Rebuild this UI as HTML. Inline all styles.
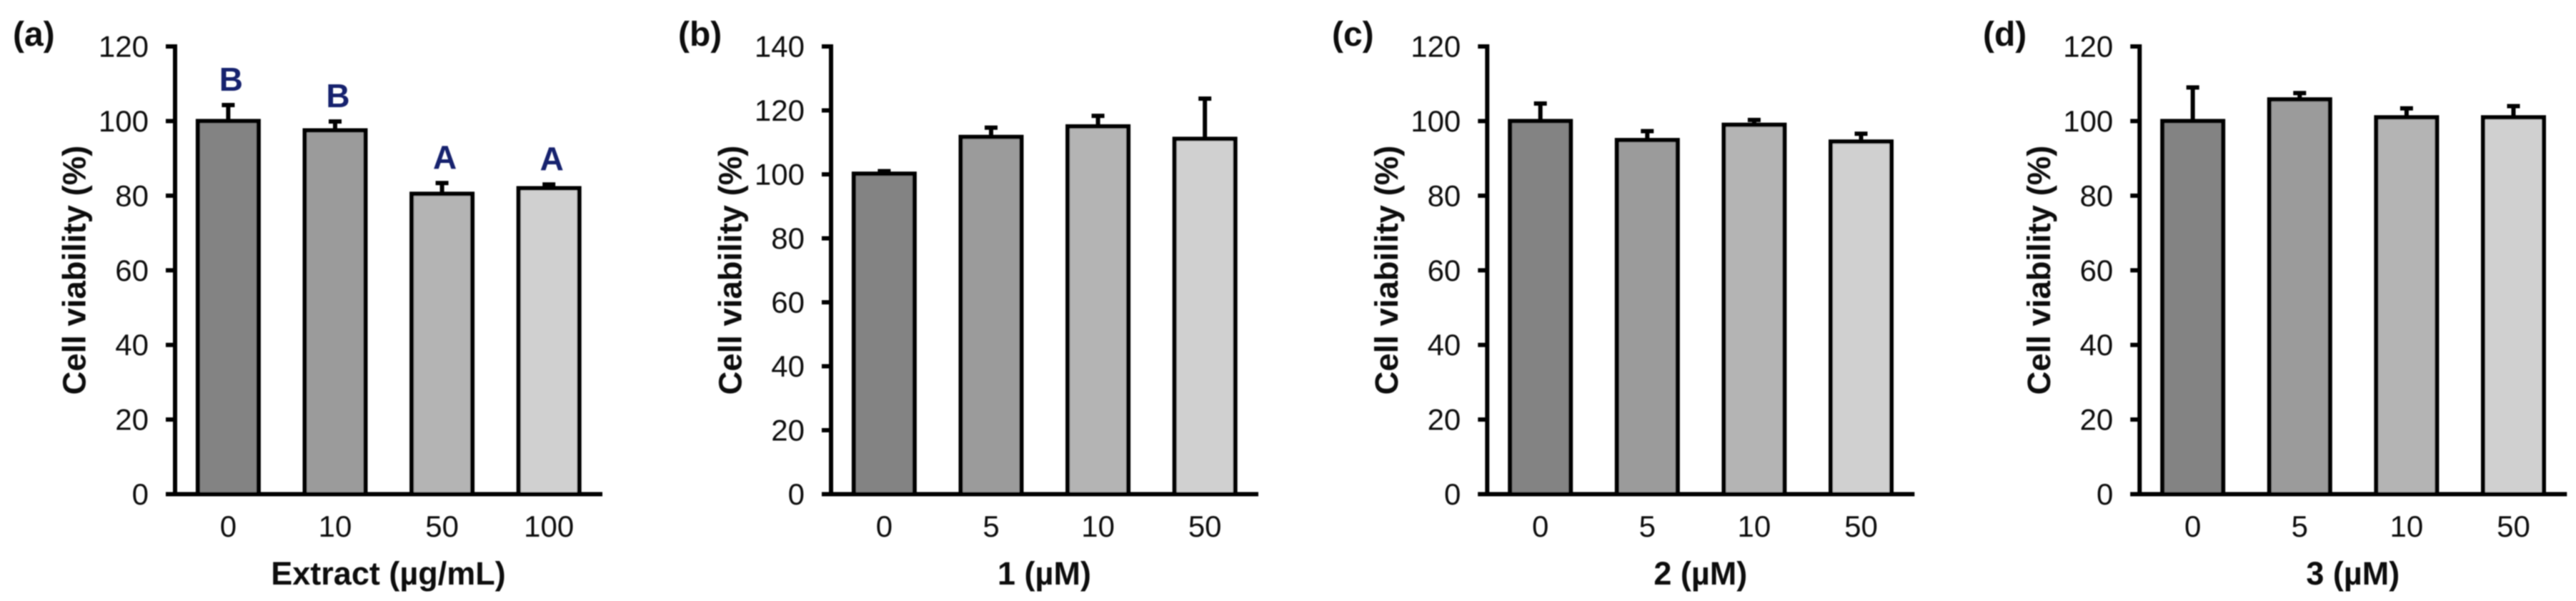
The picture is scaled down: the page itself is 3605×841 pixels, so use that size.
<!DOCTYPE html>
<html lang="en">
<head>
<meta charset="utf-8">
<title>Cell viability panels</title>
<style>
html,body{margin:0;padding:0;background:#fff;}
svg{display:block;}
text{font-family:"Liberation Sans",sans-serif;fill:#111;}
</style>
</head>
<body>
<svg id="chart" xmlns="http://www.w3.org/2000/svg" width="3605" height="841" viewBox="0 0 3605 841">
<defs><filter id="soft" x="-2%" y="-2%" width="104%" height="104%"><feGaussianBlur stdDeviation="0.7"/></filter></defs>
<rect x="0" y="0" width="3605" height="841" fill="#ffffff"/>
<g id="root" filter="url(#soft)"></g>
</svg>
<script>
const categoriesA = ['0', '10', '50', '100'];
const valuesA = [100, 97.5, 80.5, 82];
const errorsA = [4.3, 2.4, 2.9, 1];
const lettersA = ['B', 'B', 'A', 'A'];
const ticksA = [0, 20, 40, 60, 80, 100, 120];

const categoriesB = ['0', '5', '10', '50'];
const valuesB = [100.2, 111.7, 115, 111.1];
const errorsB = [0.8, 2.9, 3.3, 12.6];
const ticksB = [0, 20, 40, 60, 80, 100, 120, 140];

const categoriesC = ['0', '5', '10', '50'];
const valuesC = [100, 94.9, 99, 94.5];
const errorsC = [4.7, 2.4, 1.3, 2.1];
const ticksC = [0, 20, 40, 60, 80, 100, 120];

const categoriesD = ['0', '5', '10', '50'];
const valuesD = [100, 105.8, 101, 101];
const errorsD = [9, 1.7, 2.4, 3];
const ticksD = [0, 20, 40, 60, 80, 100, 120];

const fills = ['#838383', '#9b9b9b', '#b4b4b4', '#d0d0d0'];
const NS = 'http://www.w3.org/2000/svg';
const root = document.getElementById('root');
const TOP = 65, BASE = 691.5, BAND = 149.6, AXIS_LEN = 598, SW = 6, BAR_W = 85, CAP_W = 18;

function mk(parent, tag, attrs, txt) {
  const el = document.createElementNS(NS, tag);
  for (const k in attrs) el.setAttribute(k, attrs[k]);
  if (txt !== undefined) el.textContent = txt;
  parent.appendChild(el);
  return el;
}

function drawPanel(id, axisX, panelLabel, labelX, xTitle, categories, values, errors, ticks, letters) {
  const yMax = ticks[ticks.length - 1];
  const y = v => BASE - (v / yMax) * (BASE - TOP);
  const x = i => axisX + BAND * (i + 0.5) - 0.4;

  const g = mk(root, 'g', {});
  
  

  const lab = mk(g, 'text', {x: labelX, y: 64, 'font-size': 48, 'font-weight': 'bold'}, panelLabel);
  
  

  categories.forEach((c, i) => {
    const top = y(values[i] + errors[i]);
    const stem = mk(g, 'line', {x1: x(i), x2: x(i), y1: y(values[i]), y2: top, stroke: '#000', 'stroke-width': SW});
    
    

    const cap = mk(g, 'line', {x1: x(i) - CAP_W / 2, x2: x(i) + CAP_W / 2, y1: top, y2: top, stroke: '#000', 'stroke-width': SW});
    
    

    const bar = mk(g, 'rect', {x: x(i) - BAR_W / 2, y: y(values[i]), width: BAR_W, height: y(0) - y(values[i]), fill: fills[i], stroke: '#000', 'stroke-width': SW});
    
    

    const cat = mk(g, 'text', {x: x(i), y: 751, 'font-size': 42, 'text-anchor': 'middle'}, c);
    
    

    if (letters) {
      const let1 = mk(g, 'text', {x: x(i) + 4, y: top - 20, 'font-size': 46, 'font-weight': 'bold', 'text-anchor': 'middle', style: 'fill:#12206e'}, letters[i]);
      
      
    }
  });

  const yAxis = mk(g, 'line', {x1: axisX, x2: axisX, y1: TOP - SW / 2, y2: BASE + SW / 2, stroke: '#000', 'stroke-width': SW});
  
  

  const xAxis = mk(g, 'line', {x1: axisX - 13, x2: axisX + AXIS_LEN, y1: BASE, y2: BASE, stroke: '#000', 'stroke-width': SW});
  
  

  ticks.forEach(t => {
    const tk = mk(g, 'line', {x1: axisX - 13, x2: axisX, y1: y(t), y2: y(t), stroke: '#000', 'stroke-width': SW});
    
    

    const tl = mk(g, 'text', {x: axisX - 37, y: y(t) + 14.5, 'font-size': 42, 'text-anchor': 'end'}, String(t));
    
    
  });

  const yt = mk(g, 'text', {transform: 'translate(' + (axisX - 125.5) + ',378) rotate(-90)', 'font-size': 45.5, 'font-weight': 'bold', 'text-anchor': 'middle'}, 'Cell viability (%)');
  
  

  const xt = mk(g, 'text', {x: axisX + 298.5, y: 818, 'font-size': 45, 'font-weight': 'bold', 'text-anchor': 'middle'}, xTitle);
  
  
}

drawPanel('a', 245, '(a)', 18, 'Extract (µg/mL)', categoriesA, valuesA, errorsA, ticksA, lettersA);
drawPanel('b', 1163, '(b)', 949, '1 (µM)', categoriesB, valuesB, errorsB, ticksB, null);
drawPanel('c', 2081.3, '(c)', 1864, '2 (µM)', categoriesC, valuesC, errorsC, ticksC, null);
drawPanel('d', 2994.3, '(d)', 2775, '3 (µM)', categoriesD, valuesD, errorsD, ticksD, null);
</script>
</body>
</html>
